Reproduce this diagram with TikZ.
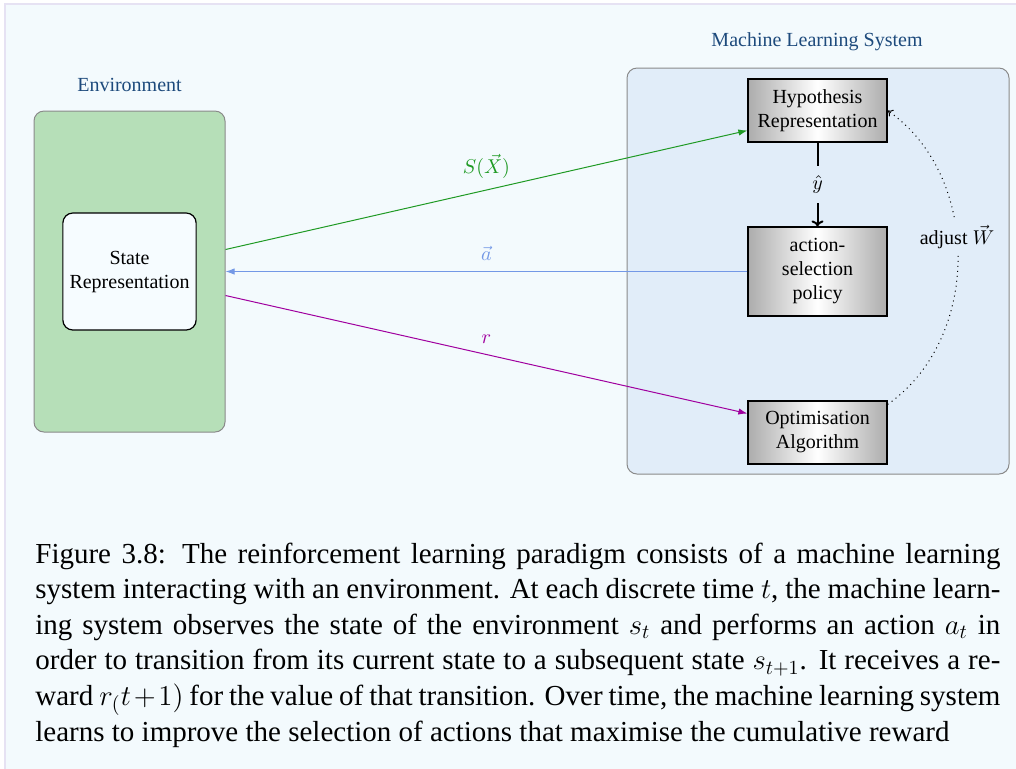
\documentclass[tikz,border=0pt]{standalone}
\usepackage{fontspec}
\setmainfont{Liberation Serif}
\usetikzlibrary{arrows.meta,calc}

\definecolor{pagebg}{HTML}{F3FAFD}
\definecolor{pageedge}{HTML}{E6E2F3}
\definecolor{envfill}{HTML}{B6DFB8}
\definecolor{mlfill}{HTML}{E1EDF9}
\definecolor{statefill}{HTML}{F6FCFF}
\definecolor{boxedge}{HTML}{8A8A8A}
\definecolor{titleblue}{HTML}{1D4A7C}
\definecolor{stategreen}{HTML}{1F9A24}
\definecolor{actblue}{HTML}{7398E6}
\definecolor{rewardmag}{HTML}{A0009F}

\tikzset{
  region/.style={draw=boxedge, rounded corners=5pt, line width=0.5pt},
  regiontitle/.style={text=titleblue, font=\fontsize{10}{12}\selectfont},
  procbox/.style={draw=black, line width=0.6pt, left color=gray!65, right color=gray!65,
    middle color=white, minimum width=69.5pt, align=center, inner sep=1pt,
    font=\fontsize{10}{12}\selectfont},
  statebox/.style={draw=black, line width=0.6pt, fill=statefill, rounded corners=5pt,
    minimum width=65.5pt, minimum height=58.5pt, align=center,
    font=\fontsize{10}{12}\selectfont},
  signal/.style={line width=0.5pt, -{Latex[length=4.5pt,width=3.2pt]}},
  siglabel/.style={font=\fontsize{10}{12}\selectfont},
  capline/.style={anchor=base west, inner sep=0pt, font=\fontsize{14.5}{17.8}\selectfont}
}

\begin{document}
\begin{tikzpicture}[x=0.5pt, y=-0.5pt]
  % page and its light frame
  \useasboundingbox (0,0) rectangle (1016,768);
  \fill[white] (0,0) rectangle (1016,768);
  \filldraw[fill=pagebg, draw=pageedge, line width=0.6pt] (5,4) rectangle (1030,780);

  % environment side
  \node[region, fill=envfill, minimum width=95.5pt, minimum height=160.5pt] (env) at (129.5,271.5) {};
  \node[regiontitle] (envtitle) at (129.5,85) {Environment};
  \node[statebox] (state) at (129.5,271.5) {State\\Representation};

  % machine learning system side
  \node[region, fill=mlfill, minimum width=191pt, minimum height=203pt] (ml) at (818,271) {};
  \node[regiontitle] (mltitle) at (817,42) {Machine Learning System};
  \node[procbox, minimum height=31.5pt] (hyp) at (817.5,110.5) {Hypothesis\\Representation};
  \node[procbox, minimum height=44.5pt] (act) at (817.5,271.5) {action-\\selection\\policy};
  \node[procbox, minimum height=31.5pt] (opt) at (817.5,432.5) {Optimisation\\Algorithm};

  % internal flow
  \draw[line width=1pt, -{To[length=3pt,width=6pt]}] (hyp.south) --
    node[fill=mlfill, inner sep=5pt, font=\fontsize{10}{12}\selectfont] (yhat) {$\hat{y}$} (act.north);
  \draw[dotted, line width=0.5pt, -{To[length=2.5pt,width=4pt]}]
    ([yshift=-2pt]opt.north east) to[bend right=55]
    node[pos=0.56, fill=mlfill, inner sep=3pt, font=\fontsize{10}{12}\selectfont] (adj) {adjust $\vec{W}$} (hyp.east);

  % signals between the environment and the learner
  \coordinate (sOut) at ($(env.east)+(0,-22)$);
  \coordinate (sIn) at ($(hyp.west)+(0,20)$);
  \coordinate (rOut) at ($(env.east)+(0,24)$);
  \coordinate (rIn) at ($(opt.west)+(0,-19)$);
  \draw[signal, stategreen] (sOut) -- node[siglabel, above=2pt] (slab) {$S(\vec{X})$} (sIn);
  \draw[signal, actblue] (act.west) -- node[siglabel, above=2pt] (alab) {$\vec{a}$} (env.east);
  \draw[signal, rewardmag] (rOut) -- node[siglabel, above=2pt] (rlab) {$r$} (rIn);

  % caption
  \node[capline] (cap1) at (35,563) {\makebox[482.5pt][s]{Figure 3.8: The reinforcement learning paradigm consists of a machine learning}};
  \node[capline] (cap2) at (35,598.6) {\makebox[482.5pt][s]{system interacting with an environment. At each discrete time $t$, the machine learn-}};
  \node[capline] (cap3) at (35,634.2) {\makebox[482.5pt][s]{ing system observes the state of the environment $s_t$ and performs an action $a_t$ in}};
  \node[capline] (cap4) at (35,669.8) {\makebox[482.5pt][s]{order to transition from its current state to a subsequent state $s_{t+1}$. It receives a re-}};
  \node[capline] (cap5) at (35,705.4) {\makebox[482.5pt][s]{ward $r_(t+1)$ for the value of that transition. Over time, the machine learning system}};
  \node[capline] (cap6) at (35,741) {learns to improve the selection of actions that maximise the cumulative reward};
\end{tikzpicture}
\end{document}
